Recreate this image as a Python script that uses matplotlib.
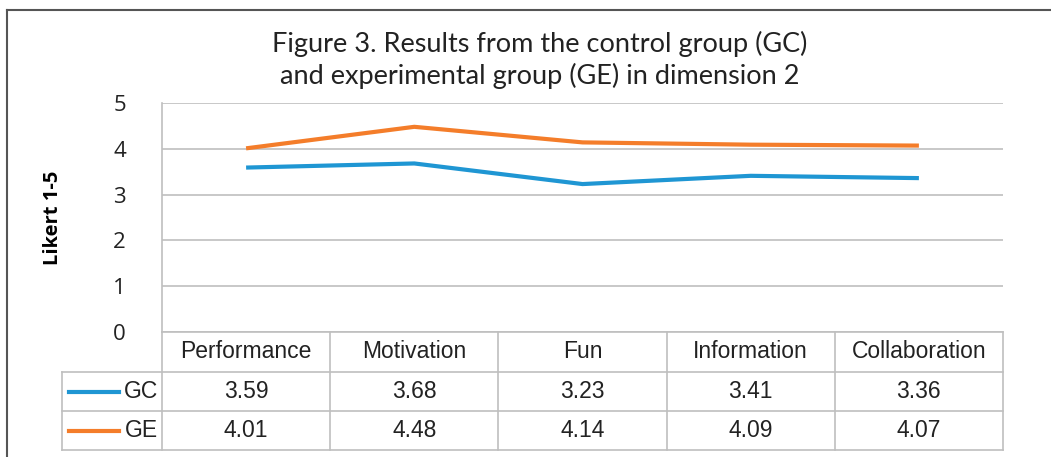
import matplotlib
matplotlib.use('Agg')
import numpy as np
from matplotlib import pyplot as plt
from matplotlib.lines import Line2D

#%% Data

categories = ['Performance', 'Motivation', 'Fun', 'Information', 'Collaboration']
gc_values  = [3.59, 3.68, 3.23, 3.41, 3.36]
ge_values  = [4.01, 4.48, 4.14, 4.09, 4.07]
series     = ['GC', 'GE']
colors     = ['#1f96d3', '#f47d2a']
yticks     = [0, 1, 2, 3, 4, 5]

W, H = 1051, 457
grid_col = '#bfbfbf'

def fx(px):
    return px / W

def fy(py):
    return 1 - py / H

#%% Figure

fig = plt.figure(figsize=(W / 100, H / 100), dpi=100)

# outer frame
fig.add_artist(Line2D([fx(7), fx(7)], [fy(10), fy(460)], color='#555555', lw=1.5))
fig.add_artist(Line2D([fx(7), fx(1051)], [fy(10), fy(10)], color='#555555', lw=1.5))

fig.text(fx(540), fy(44), 'Figure 3. Results from the control group (GC)',
         ha='center', va='center', fontsize=19.5, family='Lato', color='#222222')
fig.text(fx(540), fy(76), 'and experimental group (GE) in dimension 2',
         ha='center', va='center', fontsize=19.5, family='Lato', color='#222222')

# plot area
x0, x1 = 162, 1003
y_top, y_bot = 103, 332
ax = fig.add_axes([fx(x0), fy(y_bot), fx(x1) - fx(x0), fy(y_top) - fy(y_bot)])

x = np.arange(len(categories))
ax.plot(x, gc_values, color=colors[0], lw=3, solid_capstyle='butt')
ax.plot(x, ge_values, color=colors[1], lw=3, solid_capstyle='butt')

ax.set_xlim(-0.5, len(categories) - 0.5)
ax.set_ylim(0, 5)
ax.set_yticks(yticks)
ax.set_yticklabels([str(t) for t in yticks], fontsize=16, family='Open Sans', color='#222222')
ax.set_xticks([])
ax.tick_params(axis='y', length=0, pad=26)
ax.grid(axis='y', color=grid_col, lw=1.2)
ax.set_axisbelow(True)
for side in ['top', 'right', 'bottom']:
    ax.spines[side].set_visible(False)
ax.spines['left'].set_color(grid_col)
ax.spines['left'].set_linewidth(1.2)
ax.set_ylabel('Likert 1-5', fontsize=14.5, fontweight='bold', family='Open Sans', labelpad=36)

#%% Data table

leg_x0 = 62
row_y = [332, 372, 411, 450]
col_w = (x1 - x0) / len(categories)
line_kw = dict(color=grid_col, lw=1.2)

# horizontal lines
fig.add_artist(Line2D([fx(x0), fx(x1)], [fy(row_y[0])] * 2, **line_kw))
for yy in row_y[1:]:
    fig.add_artist(Line2D([fx(leg_x0), fx(x1)], [fy(yy)] * 2, **line_kw))
# vertical lines
fig.add_artist(Line2D([fx(leg_x0)] * 2, [fy(row_y[1]), fy(row_y[3])], **line_kw))
for i in range(len(categories) + 1):
    xx = x0 + i * col_w
    fig.add_artist(Line2D([fx(xx)] * 2, [fy(row_y[0]), fy(row_y[3])], **line_kw))

txt_kw = dict(ha='center', va='center', fontsize=16.5, family='Liberation Sans', color='#222222')
for i, cat in enumerate(categories):
    cx = x0 + (i + 0.5) * col_w
    fig.text(fx(cx), fy((row_y[0] + row_y[1]) / 2), cat, **txt_kw)
    fig.text(fx(cx), fy((row_y[1] + row_y[2]) / 2), '{:.2f}'.format(gc_values[i]), **txt_kw)
    fig.text(fx(cx), fy((row_y[2] + row_y[3]) / 2), '{:.2f}'.format(ge_values[i]), **txt_kw)

for j, name in enumerate(series):
    yc = (row_y[j + 1] + row_y[j + 2]) / 2
    fig.add_artist(Line2D([fx(69), fx(119)], [fy(yc)] * 2, color=colors[j], lw=3))
    fig.text(fx(158), fy(yc), name, ha='right', va='center', fontsize=16.5,
             family='Liberation Sans', color='#222222')

fig.savefig('out.png', dpi=100)
